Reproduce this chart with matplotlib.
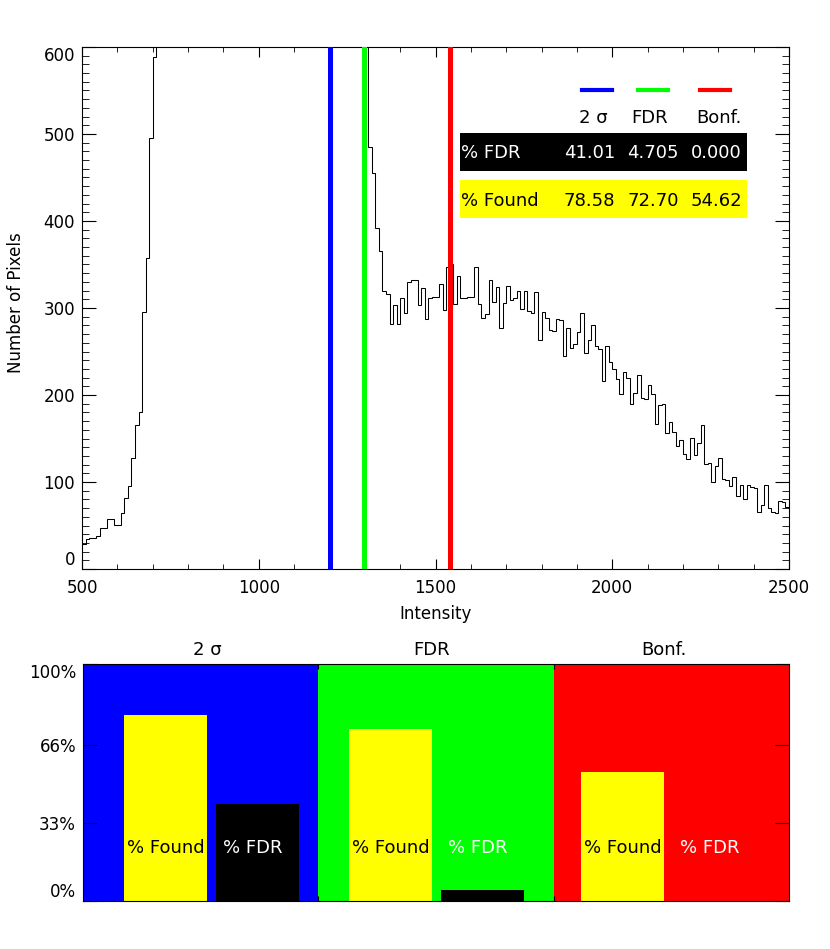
import numpy as np
import matplotlib.pyplot as plt
from matplotlib.patches import Rectangle
from matplotlib.lines import Line2D
from matplotlib.ticker import MultipleLocator

W, H = 830, 949

# histogram of intensities, 10-unit bins from 500 to 2500
bin_start = 500
bin_width = 10
counts = [29, 34, 36, 36, 38, 47, 47, 57, 58, 51,
          51, 64, 82, 95, 128, 165, 180, 295, 357, 495,
          588,
          # 710-1310 is off the top of the plot, guessed
          660, 760, 880, 1010, 1150, 1290, 1420, 1540, 1640, 1720,
          1780, 1820, 1840, 1840, 1820, 1790, 1750, 1700, 1640, 1580,
          1520, 1460, 1400, 1340, 1290, 1240, 1190, 1150, 1110, 1080,
          1050, 1020, 1000, 980, 960, 940, 920, 900, 880, 860,
          850, 840, 830, 820, 810, 800, 790, 780, 770, 760,
          750, 740, 730, 720, 710, 700, 690, 680, 660, 640,
          # 1310 onwards
          485, 455, 392, 365, 319, 316, 282, 303, 282, 312,
          294, 330, 332, 332, 303, 323, 287, 311, 313, 313,
          328, 298, 347, 350, 305, 337, 311, 311, 313, 313,
          347, 305, 289, 293, 332, 307, 324, 277, 306, 325,
          309, 312, 320, 299, 319, 296, 294, 318, 263, 295,
          288, 275, 274, 287, 286, 245, 277, 254, 259, 272,
          294, 248, 263, 281, 256, 253, 216, 256, 238, 230,
          218, 201, 226, 220, 190, 202, 223, 197, 195, 212,
          201, 167, 188, 190, 156, 169, 157, 141, 148, 132,
          127, 151, 131, 145, 166, 121, 122, 100, 118, 128,
          104, 102, 95, 106, 84, 97, 81, 97, 94, 93,
          65, 74, 97, 70, 65, 64, 78, 77, 71]

methods = ["2 \u03c3", "FDR", "Bonf."]
thresholds = [1201, 1297, 1542]
method_colors = ["#0000ff", "#00ff00", "#ff0000"]
pct_fdr = [41.01, 4.705, 0.000]
pct_found = [78.58, 72.70, 54.62]
fdr_text = ["41.01", "4.705", "0.000"]
found_text = ["78.58", "72.70", "54.62"]

edges = bin_start + bin_width * np.arange(len(counts) + 1)


def fx(px):
    return px / W


def fy(py):
    return 1 - py / H


fig = plt.figure(figsize=(W / 100, H / 100), dpi=100)

# ---- top: histogram
ax = fig.add_axes([fx(82), fy(569), (789 - 82) / W, (569 - 47) / H])
ax.stairs(counts, edges, baseline=None, color="black", lw=0.75, zorder=2)
for t, c in zip(thresholds, method_colors):
    ax.axvline(t, color=c, lw=3.6, zorder=3)
ax.set_xlim(500, 2500)
ax.set_ylim(0, 600)
ax.set_xticks(range(500, 2501, 500))
ax.xaxis.set_minor_locator(MultipleLocator(100))
ax.set_yticks(range(0, 601, 100))
ax.yaxis.set_minor_locator(MultipleLocator(10))
ax.tick_params(which="both", direction="in", top=True, right=True, labelsize=12)
ax.tick_params(axis="x", which="major", length=7.5, pad=7)
ax.tick_params(axis="x", which="minor", length=3.7)
ax.tick_params(axis="y", which="major", length=10.2, pad=5)
ax.tick_params(axis="y", which="minor", length=5.1)
ytl = ax.get_yticklabels()
ytl[0].set_va("bottom")
ytl[-1].set_va("top")
ax.set_xlabel("Intensity", fontsize=12)
ax.set_ylabel("Number of Pixels", fontsize=12)
ax.xaxis.set_label_coords(0.5, -0.069)
ax.yaxis.set_label_coords(-0.08, 0.51)

# table of results inside the histogram panel
for x0, x1, c in zip([582, 638, 700], [612, 668, 730], method_colors):
    fig.add_artist(Line2D([fx(x0), fx(x1)], [fy(90), fy(90)],
                          transform=fig.transFigure, color=c, lw=3))
col_right = [615, 679, 742]
for r, m in zip([608, 668, 742], methods):
    fig.text(fx(r), fy(118), m, ha="right", va="center", fontsize=13)
fig.add_artist(Rectangle((fx(460), fy(171)), (747 - 460) / W, 38 / H,
                         transform=fig.transFigure, facecolor="black", edgecolor="none"))
fig.add_artist(Rectangle((fx(460), fy(218)), (747 - 460) / W, 38 / H,
                         transform=fig.transFigure, facecolor="#ffff00", edgecolor="none"))
fig.text(fx(461), fy(153), "% FDR", ha="left", va="center", fontsize=13, color="white")
fig.text(fx(461), fy(201), "% Found", ha="left", va="center", fontsize=13, color="black")
for r, s in zip(col_right, fdr_text):
    fig.text(fx(r), fy(153), s, ha="right", va="center", fontsize=13, color="white")
for r, s in zip(col_right, found_text):
    fig.text(fx(r), fy(201), s, ha="right", va="center", fontsize=13, color="black")

# ---- bottom: bar summary
ax2 = fig.add_axes([fx(83), fy(901), (789 - 83) / W, (901 - 664) / H])
ax2.set_xlim(0, 3)
ax2.set_ylim(0, 100)
found_x = [0.352, 1.307, 2.293]
bar_w = 0.353
for i, c in enumerate(method_colors):
    ax2.axvspan(i, i + 1, facecolor=c, edgecolor="none", lw=0, zorder=0)
fdr_x = [x + 0.39 for x in found_x]
ax2.bar(found_x, pct_found, width=bar_w, color="#ffff00", lw=0, zorder=1)
ax2.bar(fdr_x, pct_fdr, width=bar_w, color="black", lw=0, zorder=1)
for i in range(3):
    ax2.text(found_x[i], 22.4, "% Found", ha="center", va="center", fontsize=13, color="black")
    ax2.text(fdr_x[i] - 0.02, 22.4, "% FDR", ha="center", va="center", fontsize=13, color="white")
    ax2.text(found_x[i] + 0.175, 1.059, methods[i], ha="center", va="center", fontsize=13,
             transform=ax2.get_xaxis_transform())
ax2.set_xticks([1, 2])
ax2.set_xticklabels([])
ax2.set_yticks([0, 33, 66, 100])
ax2.set_yticklabels(["0%", "33%", "66%", "100%"])
ax2.tick_params(direction="in", top=True, right=True, labelsize=12)
ax2.tick_params(axis="x", length=3.4)
ax2.tick_params(axis="y", length=10.2, pad=5)
ytl2 = ax2.get_yticklabels()
ytl2[0].set_va("bottom")
ytl2[-1].set_va("top")

fig.savefig("out.png", dpi=100)
